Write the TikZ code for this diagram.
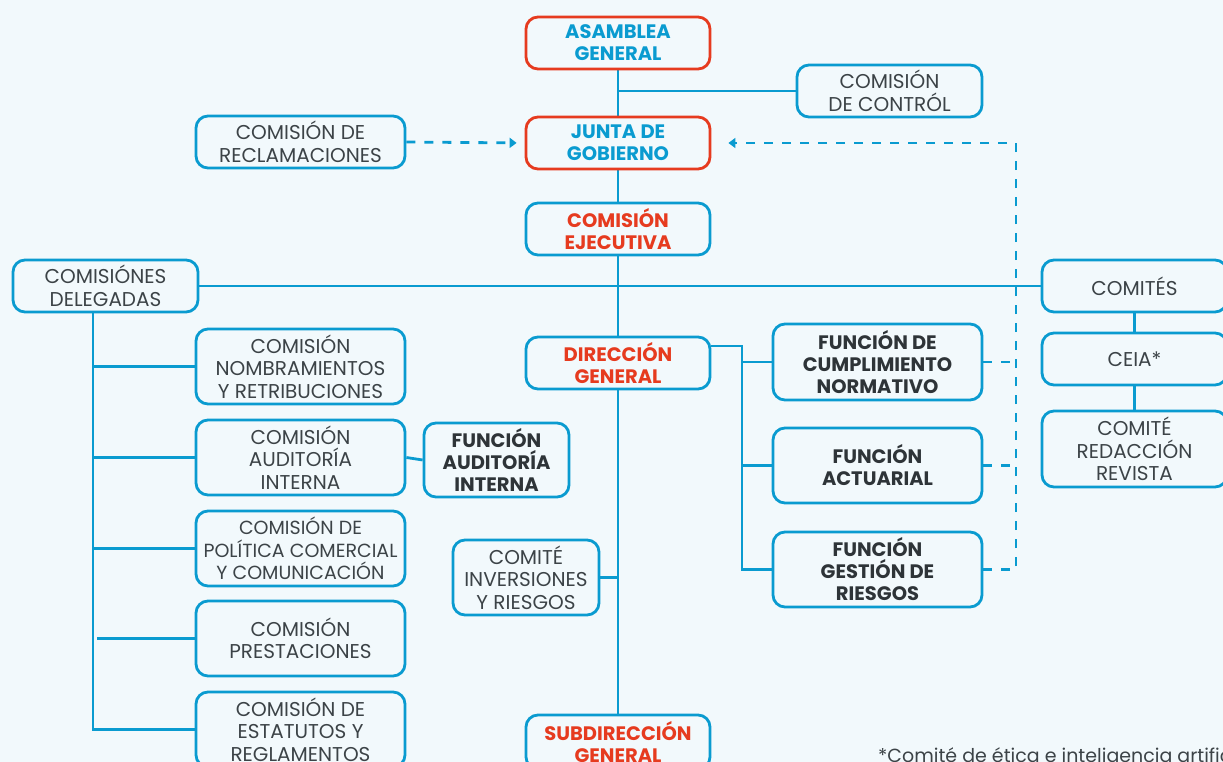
\documentclass[tikz,border=0pt]{standalone}
\usepackage{fontspec}
\setmainfont{Poppins}
\usetikzlibrary{arrows.meta,calc}
\definecolor{cblue}{HTML}{0A9BD0}
\definecolor{cred}{HTML}{E63B1F}
\definecolor{cgrey}{HTML}{3C4347}
\definecolor{cdark}{HTML}{2E3438}
\definecolor{bgc}{HTML}{F2F9FC}
\pgfdeclarelayer{back}
\pgfdeclarelayer{lines}
\pgfsetlayers{back,lines,main}
\tikzset{
  box/.style={draw=cblue, rounded corners=12pt, line width=2.8pt, fill=bgc, align=center,
    inner sep=0pt, text=cgrey, font=\fontsize{20}{22.5}\selectfont},
  redbox/.style={box, draw=cred},
  bluetxt/.style={text=cblue, font=\fontsize{19.5}{22}\selectfont\bfseries},
  redtxt/.style={text=cred, font=\fontsize{19.5}{22}\selectfont\bfseries},
  darktxt/.style={text=cdark, font=\fontsize{19.5}{22}\selectfont\bfseries},
  conn/.style={draw=cblue, line width=2.8pt},
  dconn/.style={draw=cblue, line width=2.8pt, dash pattern=on 9pt off 9pt},
  tip/.style={-{Triangle[width=10pt,length=7pt]}}
}
\begin{document}
\begin{tikzpicture}[x=1pt,y=-1pt]
\useasboundingbox (0,0) rectangle (1223,762);
\begin{pgfonlayer}{back}
  \fill[bgc] (0,0) rectangle (1223,762);
\end{pgfonlayer}
\begin{scope}
\clip (0,0) rectangle (1223,762);
% central column
\node[redbox, bluetxt, minimum width=184pt, minimum height=52pt] (asam) at (618,43) {ASAMBLEA\\GENERAL};
\node[box, minimum width=185pt, minimum height=52pt] (ctrl) at (889.5,91) {COMISIÓN\\DE CONTRÓL};
\node[redbox, bluetxt, minimum width=184pt, minimum height=52pt] (junta) at (618,143) {JUNTA DE\\GOBIERNO};
\node[box, minimum width=209pt, minimum height=52pt] (recl) at (300.5,142) {COMISIÓN DE\\RECLAMACIONES};
\node[box, redtxt, minimum width=184pt, minimum height=52pt] (ejec) at (618,229) {COMISIÓN\\EJECUTIVA};
\node[box, minimum width=185pt, minimum height=52pt] (deleg) at (105.5,286) {COMISIÓNES\\DELEGADAS};
\node[box, minimum width=185pt, minimum height=52pt] (comites) at (1134.5,286) {COMITÉS};
\node[box, minimum width=185pt, minimum height=52pt] (ceia) at (1134.5,359) {CEIA*};
\node[box, minimum width=185pt, minimum height=76pt] (revista) at (1134.5,449) {COMITÉ\\REDACCIÓN\\REVISTA};
\node[box, redtxt, minimum width=184pt, minimum height=52pt] (direc) at (618,363) {DIRECCIÓN\\GENERAL};
\node[box, darktxt, minimum width=209pt, minimum height=76pt] (fcn) at (877.5,362) {FUNCIÓN DE\\CUMPLIMIENTO\\NORMATIVO};
\node[box, darktxt, minimum width=209pt, minimum height=75pt] (fa) at (877.5,465.5) {FUNCIÓN\\ACTUARIAL};
\node[box, darktxt, minimum width=209pt, minimum height=75pt] (fgr) at (877.5,569.5) {FUNCIÓN\\GESTIÓN DE\\RIESGOS};
\node[box, minimum width=146pt, minimum height=75pt] (inv) at (526,577.5) {COMITÉ\\INVERSIONES\\Y RIESGOS};
\node[box, redtxt, minimum width=184pt, minimum height=54pt] (sub) at (618,742) {SUBDIRECCIÓN\\GENERAL};
% left column
\node[box, minimum width=209pt, minimum height=75pt] (nomb) at (300.5,366.5) {COMISIÓN\\NOMBRAMIENTOS\\Y RETRIBUCIONES};
\node[box, minimum width=209pt, minimum height=75pt] (audi) at (300.5,457.5) {COMISIÓN\\AUDITORÍA\\INTERNA};
\node[box, minimum width=209pt, minimum height=75pt, font=\fontsize{19}{22.5}\selectfont] (poli) at (300.5,548.5) {COMISIÓN DE\\POLÍTICA COMERCIAL\\Y COMUNICACIÓN};
\node[box, minimum width=209pt, minimum height=75pt] (prest) at (300.5,638.5) {COMISIÓN\\PRESTACIONES};
\node[box, minimum width=209pt, minimum height=75pt] (estat) at (300.5,729.5) {COMISIÓN DE\\ESTATUTOS Y\\REGLAMENTOS};
\node[box, darktxt, minimum width=145pt, minimum height=74pt] (fai) at (496.5,460) {FUNCIÓN\\AUDITORÍA\\INTERNA};
% footnote
\node[anchor=base west, inner sep=0pt, text=cgrey, font=\fontsize{19}{22}\selectfont] (foot) at (878,762) {*Comité de ética e inteligencia artificial};
\coordinate (lt) at (93,311);
\coordinate (dj) at (742,346);
\coordinate (dr) at (1016,143);
\begin{pgfonlayer}{lines}
  \draw[conn] (asam.south) -- (junta.north);
  \draw[conn] (ctrl.west) -- (ctrl.west -| asam.south);
  \draw[conn] (junta.south) -- (ejec.north);
  \draw[conn] (ejec.south) -- (direc.north);
  \draw[conn] (deleg.east) -- (comites.west);
  \draw[conn] (direc.south) -- (sub.north);
  \draw[conn] (inv.east) -- (inv.east -| direc.south);
  \draw[conn] (direc.east |- dj) -- (dj) -- (dj |- fgr.west) -- (fgr.west);
  \draw[conn] (dj |- fcn.west) -- (fcn.west);
  \draw[conn] (dj |- fa.west) -- (fa.west);
  \draw[conn] (comites.south) -- (ceia.north);
  \draw[conn] (ceia.south) -- (revista.north);
  \draw[conn] (lt |- deleg.south) -- (lt |- estat.west) -- (estat.west);
  \draw[conn] (lt |- nomb.west) -- (nomb.west);
  \draw[conn] (lt |- audi.west) -- (audi.west);
  \draw[conn] (lt |- poli.west) -- (poli.west);
  \draw[conn] ($(lt |- prest.west)+(4,0)$) -- (prest.west);
  \draw[conn] (audi.east) -- (fai.west);
  \draw[dconn, tip, shorten >=8pt] (recl.east) -- (junta.west);
  \draw[dconn, tip, shorten >=17pt] (fgr.east) -- (fgr.east -| dr) -- (dr) -- (junta.east);
  \draw[dconn] (fcn.east) -- (fcn.east -| dr);
  \draw[dconn] (fa.east) -- (fa.east -| dr);
\end{pgfonlayer}
\end{scope}
\end{tikzpicture}
\end{document}
